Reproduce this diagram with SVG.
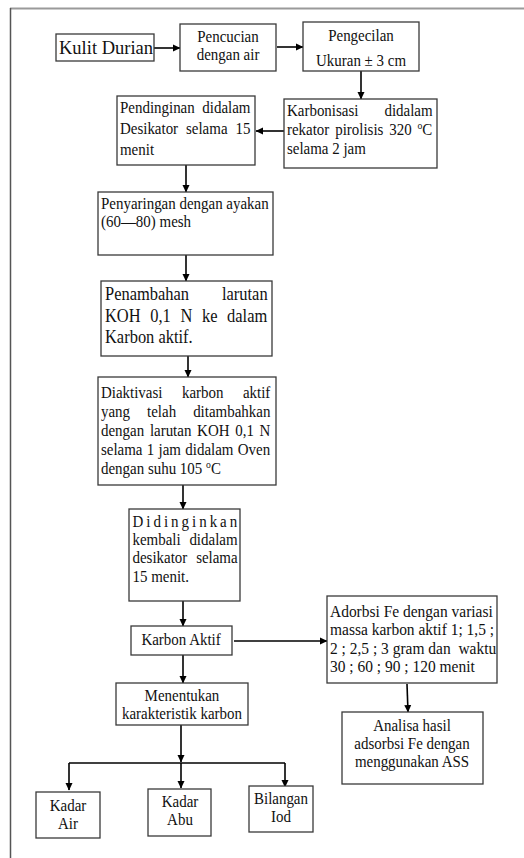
<svg xmlns="http://www.w3.org/2000/svg" width="524" height="858" viewBox="0 0 524 858">
<style>
.box{fill:#fff;stroke:#3a3a3a;stroke-width:1.3}
.t{font-family:"Liberation Serif","Times New Roman",serif;font-size:17px;fill:#111;transform-box:fill-box;transform-origin:left center;transform:scaleX(0.88)}
.c{text-anchor:middle;transform-origin:center}
.big{font-size:18.7px}
.ad{font-size:17px;transform:scaleX(0.91)}
.k{font-family:"Liberation Serif","Times New Roman",serif;font-size:18.5px;fill:#111}
.conn line,.conn path{stroke:#000;stroke-width:1.6;fill:none}
.sup{font-size:11px}
</style>
<defs>
<marker id="ah" markerUnits="userSpaceOnUse" markerWidth="8" markerHeight="8" refX="7" refY="4" orient="auto">
<path d="M0,0.5 L7.5,4 L0,7.5 z" fill="#000"/>
</marker>
</defs>
<rect width="524" height="858" fill="#fff"/>
<g id="frame">
<line x1="10" y1="8.5" x2="524" y2="8.5" stroke="#9a9a9a" stroke-width="2"/>
<line x1="10.5" y1="8" x2="10.5" y2="858" stroke="#555" stroke-width="1.5"/>
</g>
<g class="conn">
<line x1="154" y1="48" x2="180" y2="48" marker-end="url(#ah)"/>
<line x1="277" y1="47" x2="303" y2="47" marker-end="url(#ah)"/>
<line x1="361" y1="71" x2="361" y2="99" marker-end="url(#ah)"/>
<line x1="284" y1="131" x2="256" y2="131" marker-end="url(#ah)"/>
<line x1="186" y1="165" x2="186" y2="192" marker-end="url(#ah)"/>
<line x1="186" y1="255" x2="186" y2="281" marker-end="url(#ah)"/>
<line x1="188" y1="356" x2="188" y2="377" marker-end="url(#ah)"/>
<line x1="183" y1="485" x2="183" y2="509" marker-end="url(#ah)"/>
<line x1="183" y1="601" x2="183" y2="626" marker-end="url(#ah)"/>
<line x1="234" y1="641" x2="327" y2="641" marker-end="url(#ah)"/>
<line x1="183" y1="655" x2="183" y2="683" marker-end="url(#ah)"/>
<line x1="407" y1="684" x2="408" y2="712" marker-end="url(#ah)"/>
<line x1="181" y1="725" x2="181" y2="762" marker-end="url(#ah)"/>
<line x1="69" y1="763" x2="285" y2="763"/>
<line x1="69" y1="763" x2="69" y2="790" marker-end="url(#ah)"/>
<line x1="181" y1="763" x2="181" y2="788" marker-end="url(#ah)"/>
<line x1="285" y1="763" x2="285" y2="787" marker-end="url(#ah)"/>
</g>
<g id="kulit">
<rect class="box" x="56" y="34" width="98" height="27"/>
<text class="k" x="59" y="54">Kulit Durian</text>
</g>
<g id="pencucian">
<rect class="box" x="180" y="24" width="96" height="47"/>
<text class="t c" x="228" y="42">Pencucian</text>
<text class="t c" x="228" y="60">dengan air</text>
</g>
<g id="pengecilan">
<rect class="box" x="303" y="22" width="116" height="49"/>
<text class="t c" x="361" y="41">Pengecilan</text>
<text class="t c" x="361" y="66">Ukuran ± 3 cm</text>
</g>
<g id="karbonisasi">
<rect class="box" x="284" y="99" width="153" height="69"/>
<text class="t" x="287" y="116" word-spacing="25.3">Karbonisasi didalam</text>
<text class="t" x="287" y="135" word-spacing="2.4">rekator pirolisis 320 <tspan class="sup" dy="-6">o</tspan><tspan dy="6">C</tspan></text>
<text class="t" x="287" y="154">selama 2 jam</text>
</g>
<g id="pendinginan">
<rect class="box" x="117" y="96" width="138" height="69"/>
<text class="t" x="120" y="113" word-spacing="4.4">Pendinginan didalam</text>
<text class="t" x="120" y="134" word-spacing="4.75">Desikator selama 15</text>
<text class="t" x="120" y="155">menit</text>
</g>
<g id="penyaringan">
<rect class="box" x="98" y="192" width="175" height="63"/>
<text class="t" x="101" y="209">Penyaringan dengan ayakan</text>
<text class="t" x="101" y="227">(60—80) mesh</text>
</g>
<g id="penambahan">
<rect class="box" x="101" y="281" width="171" height="75"/>
<text class="t big" x="105" y="300" word-spacing="32.7">Penambahan larutan</text>
<text class="t big" x="105" y="322" word-spacing="6.25">KOH 0,1 N ke dalam</text>
<text class="t big" x="105" y="343">Karbon aktif.</text>
</g>
<g id="diaktivasi">
<rect class="box" x="98" y="377" width="178" height="108"/>
<text class="t" x="101" y="398" word-spacing="17.9">Diaktivasi karbon aktif</text>
<text class="t" x="101" y="417" word-spacing="15.1">yang telah ditambahkan</text>
<text class="t" x="101" y="436" word-spacing="2.25">dengan larutan KOH 0,1 N</text>
<text class="t" x="101" y="455" word-spacing="0.65">selama 1 jam didalam Oven</text>
<text class="t" x="101" y="474">dengan suhu 105 <tspan class="sup" dy="-6">o</tspan><tspan dy="6">C</tspan></text>
</g>
<g id="didinginkan">
<rect class="box" x="129" y="509" width="111" height="92"/>
<text class="t" x="132.5" y="527" textLength="119" lengthAdjust="spacing">Didinginkan</text>
<text class="t" x="132.5" y="545" word-spacing="5.7">kembali didalam</text>
<text class="t" x="132.5" y="563" word-spacing="5.8">desikator selama</text>
<text class="t" x="132.5" y="582">15 menit.</text>
</g>
<g id="karbon-aktif">
<rect class="box" x="131" y="626" width="101" height="29"/>
<text class="t c" x="181" y="645">Karbon Aktif</text>
</g>
<g id="adorbsi">
<rect class="box" x="327" y="596" width="170" height="87"/>
<text class="t ad" x="330" y="617">Adorbsi Fe dengan variasi</text>
<text class="t ad" x="330" y="635">massa karbon aktif 1; 1,5 ;</text>
<text class="t ad" x="330" y="654" style="white-space:pre">2 ; 2,5 ; 3 gram dan  waktu</text>
<text class="t ad" x="330" y="672">30 ; 60 ; 90 ; 120 menit</text>
</g>
<g id="menentukan">
<rect class="box" x="116" y="683" width="132" height="42"/>
<text class="t c" x="182" y="701">Menentukan</text>
<text class="t c" x="182" y="719">karakteristik karbon</text>
</g>
<g id="analisa">
<rect class="box" x="342" y="712" width="141" height="72"/>
<text class="t c" x="412" y="731">Analisa hasil</text>
<text class="t c" x="412" y="749">adsorbsi Fe dengan</text>
<text class="t c" x="412" y="767">menggunakan ASS</text>
</g>
<g id="kadar-air">
<rect class="box" x="36" y="792" width="64" height="46"/>
<text class="t c" x="68" y="811">Kadar</text>
<text class="t c" x="68" y="829">Air</text>
</g>
<g id="kadar-abu">
<rect class="box" x="148" y="789" width="63" height="47"/>
<text class="t c" x="180" y="807">Kadar</text>
<text class="t c" x="180" y="825">Abu</text>
</g>
<g id="bilangan-iod">
<rect class="box" x="249" y="786" width="64" height="46"/>
<text class="t c" x="281" y="804">Bilangan</text>
<text class="t c" x="281" y="822">Iod</text>
</g>
</svg>
